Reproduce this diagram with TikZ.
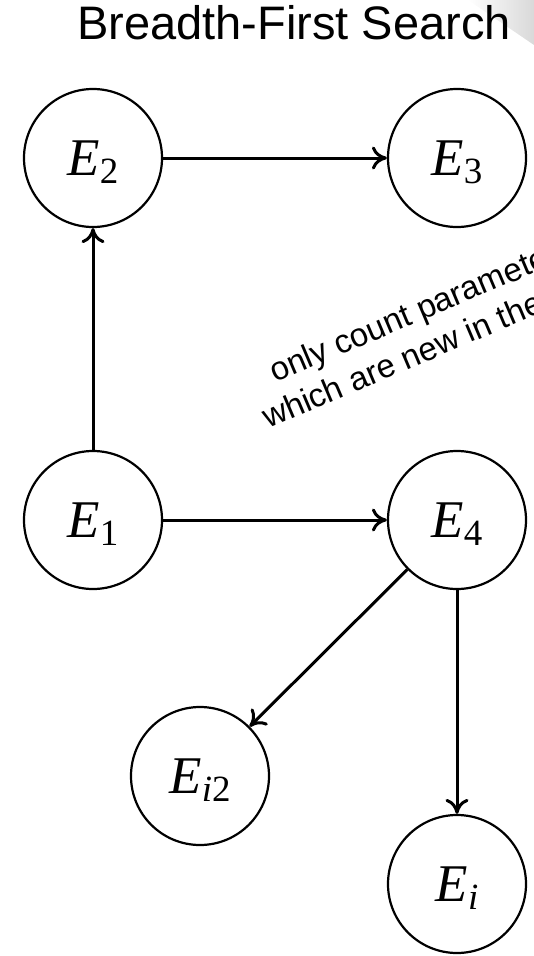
\documentclass[tikz,border=0pt]{standalone}
\usepackage{fontspec}
\setmainfont{Liberation Sans}
\newfontfamily\timesfont{Liberation Serif}
\usetikzlibrary{arrows.meta}
\newcommand\EE[1]{{\timesfont\itshape E}\raisebox{-8pt}[0pt][0pt]{\timesfont\fontsize{37}{40}\selectfont #1}}
\tikzset{
  state/.style={circle, draw=black, line width=2.2pt, minimum size=138pt, inner sep=0pt,
    font=\fontsize{53}{60}\selectfont},
  edge/.style={line width=3pt, -{Computer Modern Rightarrow[length=15pt,width=23pt,line width=3pt]}},
  note/.style={anchor=base west, inner sep=0pt, rotate=23, font=\fontsize{33}{38}\selectfont},
  title/.style={anchor=base, inner sep=0pt, font=\fontsize{47}{56}\selectfont}
}
\begin{document}
\begin{tikzpicture}[x=1pt, y=-1pt]
\useasboundingbox (0,0) rectangle (534,956);
\clip (0,0) rectangle (534,956);
\shade[left color=white, right color=gray!30] (468,0) -- (534,0) -- (534,45) -- cycle;
\node[title] (title) at (294,39) {Breadth-First Search};
\node[state] (e2) at (93,158) {\EE{2}};
\node[state] (e3) at (457,158) {\EE{3}};
\node[state] (e1) at (93,520) {\EE{1}};
\node[state] (e4) at (457,520) {\EE{4}};
\node[state] (ei2) at (200,776) {\EE{\itshape i\upshape 2}};
\node[state] (ei) at (457,884) {\EE{\itshape i}};
\draw[edge] (e1) -- (e2);
\draw[edge] (e2) -- (e3);
\draw[edge] (e1) -- (e4);
\draw[edge] (e4) -- (ei2);
\draw[edge] (e4) -- (ei);
\node[note] (n1) at (275,383) {only count parameters};
\node[note] (n2) at (268,429) {which are new in the};
\end{tikzpicture}
\end{document}
